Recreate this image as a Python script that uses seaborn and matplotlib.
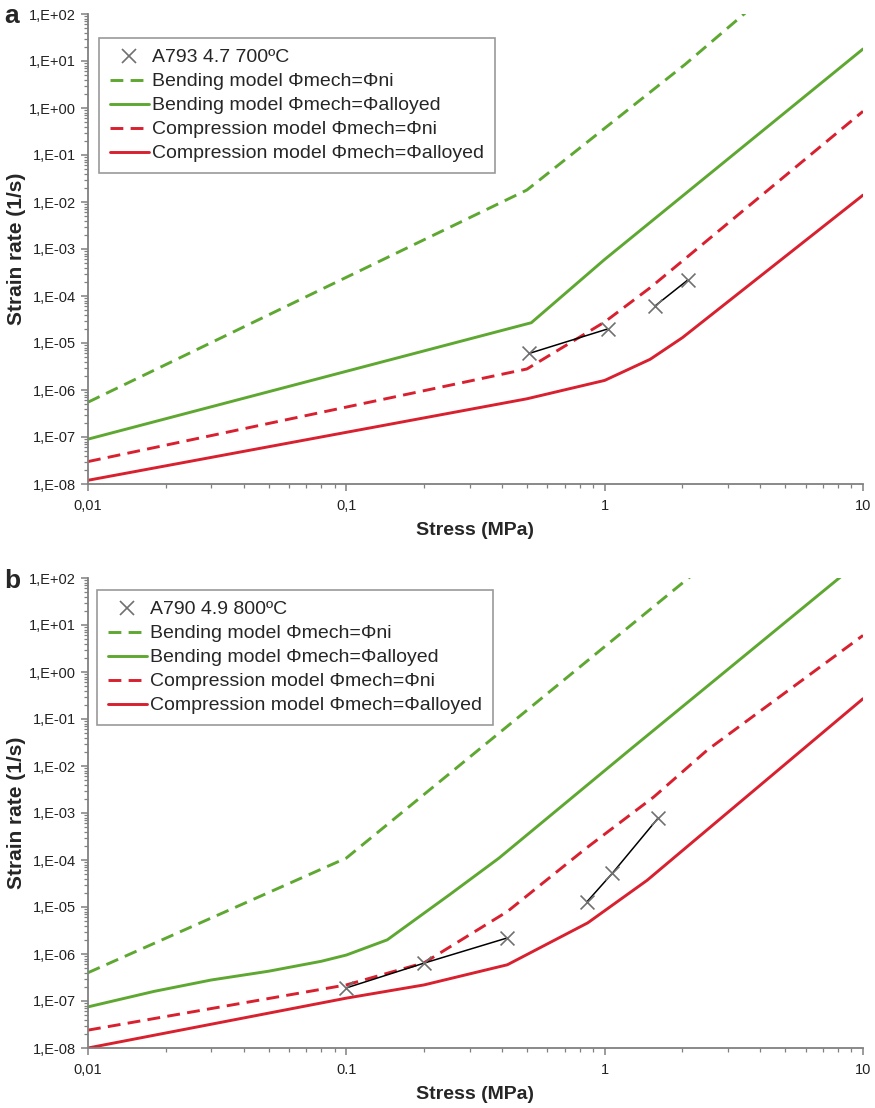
import numpy as np
import pandas as pd
import matplotlib
matplotlib.use("Agg")
import matplotlib.pyplot as plt
import seaborn as sns
from matplotlib.ticker import LogLocator, FixedLocator, FixedFormatter, NullFormatter
from matplotlib.lines import Line2D

# ---------------- data ----------------
y_tick_values = [1e-8, 1e-7, 1e-6, 1e-5, 1e-4, 1e-3, 1e-2, 1e-1, 1e0, 1e1, 1e2]
y_tick_labels = ["1,E-08", "1,E-07", "1,E-06", "1,E-05", "1,E-04", "1,E-03",
                 "1,E-02", "1,E-01", "1,E+00", "1,E+01", "1,E+02"]
x_tick_values = [0.01, 0.1, 1, 10]
a_x_tick_labels = ["0,01", "0,1", "1", "10"]
b_x_tick_labels = ["0,01", "0.1", "1", "10"]

series_labels = ["Bending model \u03a6mech=\u03a6ni", "Bending model \u03a6mech=\u03a6alloyed",
                 "Compression model \u03a6mech=\u03a6ni", "Compression model \u03a6mech=\u03a6alloyed"]

# panel a
a_exp_label = "A793 4.7 700\u00baC"
a_gd_x = [0.01, 0.5, 2.05, 3.6]
a_gd_y = [5.5e-7, 1.8e-2, 8.5, 1.2e2]
a_gs_x = [0.01, 0.52, 1.0, 10]
a_gs_y = [9e-8, 2.7e-5, 6e-4, 1.8e1]
a_rd_x = [0.01, 0.5, 1.0, 1.5, 10]
a_rd_y = [3e-8, 2.8e-6, 2.8e-5, 1.5e-4, 0.85]
a_rs_x = [0.01, 0.5, 1.0, 1.5, 2.0, 10]
a_rs_y = [1.2e-8, 6.5e-7, 1.6e-6, 4.5e-6, 1.3e-5, 1.4e-2]
a_exp1_x = [0.51, 1.03]
a_exp1_y = [6e-6, 2e-5]
a_exp2_x = [1.57, 2.1]
a_exp2_y = [6.2e-5, 2.2e-4]

# panel b
b_exp_label = "A790 4.9 800\u00baC"
b_gd_x = [0.01, 0.1, 0.42, 2.2]
b_gd_y = [4e-7, 1.1e-4, 7e-2, 1.2e2]
b_gs_x = [0.01, 0.018, 0.03, 0.05, 0.08, 0.1, 0.144, 0.25, 0.39, 1.25, 10]
b_gs_y = [7.5e-8, 1.6e-7, 2.8e-7, 4.3e-7, 7e-7, 9.5e-7, 2e-6, 1.8e-5, 1.1e-4, 2.2e-2, 2.6e2]
b_rd_x = [0.01, 0.1, 0.2, 0.42, 0.85, 1.55, 2.5, 10]
b_rd_y = [2.4e-8, 2.2e-7, 6.5e-7, 8e-6, 1.8e-4, 2.2e-3, 2.2e-2, 6.0]
b_rs_x = [0.01, 0.1, 0.2, 0.42, 0.86, 1.46, 10]
b_rs_y = [1e-8, 1.15e-7, 2.2e-7, 5.9e-7, 4.6e-6, 3.7e-5, 0.27]
b_exp1_x = [0.1, 0.2, 0.42]
b_exp1_y = [1.9e-7, 6.4e-7, 2.2e-6]
b_exp2_x = [0.855, 1.07, 1.61]
b_exp2_y = [1.3e-5, 5.2e-5, 7.8e-4]

GREEN = "#5ea832"
RED = "#d8202f"
GRAY = "#808080"
DASH = (0, (4.4, 2.5))
LW = 2.1

sns.set_style("ticks")
plt.rcParams["font.family"] = ["Liberation Sans", "DejaVu Sans"]

W, H = 875, 1108
fig = plt.figure(figsize=(W / 100, H / 100), dpi=100)
ax_l, ax_r = 88, 863


def make_ax(top, bottom):
    return fig.add_axes([ax_l / W, 1 - bottom / H, (ax_r - ax_l) / W, (bottom - top) / H])


def draw_panel(ax, curves, exps, exp_label, xlabels, legend_anchor):
    handles = []
    styles = [(GREEN, DASH), (GREEN, "-"), (RED, DASH), (RED, "-")]
    for (xs, ys), (col, ls), lab in zip(curves, styles, series_labels):
        df = pd.DataFrame({"x": xs, "y": ys})
        sns.lineplot(data=df, x="x", y="y", ax=ax, color=col, linewidth=LW,
                     estimator=None, sort=False, legend=False)
        ln = ax.lines[-1]
        ln.set_linestyle(ls)
        handles.append(Line2D([], [], color=col, linestyle=ls, linewidth=LW, label=lab))
    for xs, ys in exps:
        df = pd.DataFrame({"x": xs, "y": ys})
        sns.lineplot(data=df, x="x", y="y", ax=ax, color="black", linewidth=1.1,
                     estimator=None, sort=False, legend=False, zorder=3)
        sns.scatterplot(data=df, x="x", y="y", ax=ax, marker="x", color="#707070",
                        s=100, linewidth=1.2, legend=False, zorder=4)
    exp_handle = Line2D([], [], color="#707070", marker="x", linestyle="none",
                        markersize=10, markeredgewidth=1.2, label=exp_label)
    handles = [exp_handle] + handles

    ax.set_xscale("log")
    ax.set_yscale("log")
    ax.set_xlim(0.01, 10)
    ax.set_ylim(1e-8, 1e2)
    ax.yaxis.set_major_locator(FixedLocator(y_tick_values))
    ax.yaxis.set_major_formatter(FixedFormatter(y_tick_labels))
    ax.yaxis.set_minor_locator(LogLocator(base=10, subs=np.arange(2, 10), numticks=100))
    ax.yaxis.set_minor_formatter(NullFormatter())
    ax.xaxis.set_major_locator(FixedLocator(x_tick_values))
    ax.xaxis.set_major_formatter(FixedFormatter(xlabels))
    ax.xaxis.set_minor_locator(LogLocator(base=10, subs=np.arange(2, 10), numticks=100))
    ax.xaxis.set_minor_formatter(NullFormatter())

    for s in ["top", "right"]:
        ax.spines[s].set_visible(False)
    for s in ["left", "bottom"]:
        ax.spines[s].set_color(GRAY)
        ax.spines[s].set_linewidth(1.3)
    ax.tick_params(which="major", direction="out", length=5, width=1.1, color=GRAY,
                   labelsize=10.5, labelcolor="#222222")
    ax.tick_params(which="minor", direction="out", length=3, width=0.9, color=GRAY)
    ax.tick_params(axis="x", pad=6)

    ax.set_xlabel("Stress (MPa)", fontsize=14, fontweight="bold", labelpad=6)
    ax.set_ylabel("Strain rate (1/s)", fontsize=15, fontweight="bold", labelpad=2)

    leg = ax.legend(handles=handles, loc="upper left", bbox_to_anchor=legend_anchor,
                    borderaxespad=0, frameon=True, fancybox=False, fontsize=14,
                    handlelength=2.0, handletextpad=0.2, labelspacing=0.33,
                    borderpad=0.55)
    leg.get_frame().set_edgecolor(GRAY)
    leg.get_frame().set_linewidth(1.2)


ax_a = make_ax(14, 484)
draw_panel(ax_a,
           [(a_gd_x, a_gd_y), (a_gs_x, a_gs_y), (a_rd_x, a_rd_y), (a_rs_x, a_rs_y)],
           [(a_exp1_x, a_exp1_y), (a_exp2_x, a_exp2_y)],
           a_exp_label, a_x_tick_labels, ((99 - 88) / 775, 1 - (38 - 14) / 470))

ax_b = make_ax(578, 1048)
draw_panel(ax_b,
           [(b_gd_x, b_gd_y), (b_gs_x, b_gs_y), (b_rd_x, b_rd_y), (b_rs_x, b_rs_y)],
           [(b_exp1_x, b_exp1_y), (b_exp2_x, b_exp2_y)],
           b_exp_label, b_x_tick_labels, ((97 - 88) / 775, 1 - (590 - 578) / 470))

fig.text(12 / W, 1 - 16 / H, "a", fontsize=19, fontweight="bold", va="center", ha="center")
fig.text(12 / W, 1 - 581 / H, "b", fontsize=19, fontweight="bold", va="center", ha="center")

fig.savefig("out.png", dpi=100)
